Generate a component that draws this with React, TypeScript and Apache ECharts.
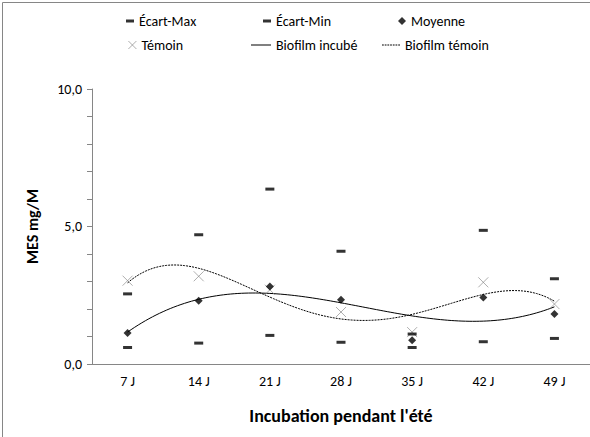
import React, { useEffect, useRef } from "react";
import * as echarts from "echarts";

const categories = ["7 J", "14 J", "21 J", "28 J", "35 J", "42 J", "49 J"];
const ecartMax = [2.55, 4.7, 6.36, 4.1, 1.09, 4.86, 3.1];
const ecartMin = [0.6, 0.76, 1.04, 0.79, 0.6, 0.81, 0.93];
const moyenne = [1.13, 2.3, 2.82, 2.34, 0.86, 2.42, 1.82];
const temoin = [3.03, 3.19, 2.7, 1.89, 1.16, 2.97, 2.18];
const yTicks = [0, 5, 10];

const FONT = "Carlito, Calibri, 'Liberation Sans Narrow', 'Noto Sans', sans-serif";

function polyfit(ys: number[], degree: number): number[] {
  const n = degree + 1;
  const A: number[][] = [];
  for (let i = 0; i < n; i++) {
    A.push(new Array(n + 1).fill(0));
  }
  ys.forEach((y, k) => {
    const x = k + 1;
    for (let i = 0; i < n; i++) {
      for (let j = 0; j < n; j++) A[i][j] += Math.pow(x, i + j);
      A[i][n] += y * Math.pow(x, i);
    }
  });
  for (let c = 0; c < n; c++) {
    let p = c;
    for (let r = c + 1; r < n; r++) if (Math.abs(A[r][c]) > Math.abs(A[p][c])) p = r;
    [A[c], A[p]] = [A[p], A[c]];
    for (let r = 0; r < n; r++) {
      if (r === c) continue;
      const f = A[r][c] / A[c][c];
      for (let k = c; k <= n; k++) A[r][k] -= f * A[c][k];
    }
  }
  return A.map((row, i) => row[n] / row[i]);
}

function trend(ys: number[], degree: number): number[][] {
  const coef = polyfit(ys, degree);
  const pts: number[][] = [];
  for (let x = 1; x <= 7.0001; x += 0.05) {
    let v = 0;
    coef.forEach((c, i) => (v += c * Math.pow(x, i)));
    pts.push([x, v]);
  }
  return pts;
}

const crossPath = "path://M0,0L10,10M10,0L0,10";
const solidIcon = "path://M0,0h20v1h-20z";
const dottedIcon =
  "path://M0,0h2v1h-2zM3,0h2v1h-2zM6,0h2v1h-2zM9,0h2v1h-2zM12,0h2v1h-2zM15,0h2v1h-2zM18,0h2v1h-2z";

export default function App() {
  const ref = useRef<HTMLDivElement>(null);
  useEffect(() => {
    document.body.style.margin = "0";
    const chart = echarts.init(ref.current!, undefined, { renderer: "svg" });
    const textStyle = { fontFamily: FONT, fontSize: 14, color: "#000" };
    const legendBase = {
      orient: "horizontal" as const,
      padding: 0,
      textStyle,
      itemGap: 0,
      selectedMode: false,
    };
    chart.setOption({
      animation: false,
      backgroundColor: "#fff",
      textStyle: { fontFamily: FONT },
      graphic: [
        {
          type: "rect",
          shape: { x: 2.5, y: 2.5, width: 700, height: 600 },
          style: { fill: "none", stroke: "#868686", lineWidth: 1 },
          silent: true,
        },
        {
          type: "text",
          x: 341,
          y: 416,
          style: {
            text: "Incubation pendant l'été",
            font: `bold 18px ${FONT}`,
            fill: "#000",
            align: "center",
            verticalAlign: "middle",
          },
        },
      ],
      legend: [
        { ...legendBase, data: ["Écart-Max"], left: 126, top: 14, icon: "rect", itemWidth: 8, itemHeight: 3 },
        { ...legendBase, data: ["Écart-Min"], left: 263, top: 14, icon: "rect", itemWidth: 8, itemHeight: 3 },
        { ...legendBase, data: ["Moyenne"], left: 398, top: 14, icon: "diamond", itemWidth: 8, itemHeight: 8 },
        {
          ...legendBase,
          data: [{ name: "Témoin", itemStyle: { color: "transparent", borderColor: "#808080", borderWidth: 0.8 } }],
          left: 128,
          top: 38,
          itemWidth: 8,
          itemHeight: 8,
        },
        { ...legendBase, data: ["Biofilm incubé"], left: 251, top: 38, icon: solidIcon, itemWidth: 20, itemHeight: 1 },
        { ...legendBase, data: ["Biofilm témoin"], left: 382, top: 38, icon: dottedIcon, itemWidth: 18, itemHeight: 1 },
      ],
      grid: { left: 92, right: 0, top: 89, bottom: 73, containLabel: false },
      xAxis: [
        {
          type: "category",
          data: categories,
          axisLine: { lineStyle: { color: "#868686" } },
          axisTick: { show: false },
          axisLabel: { ...textStyle, margin: 10 },
        },
        { type: "value", min: 0.5, max: 7.5, show: false },
      ],
      yAxis: {
        type: "value",
        min: 0,
        max: 10,
        interval: 5,
        name: "MES mg/M",
        nameLocation: "middle",
        nameGap: 52,
        nameTextStyle: { fontFamily: FONT, fontSize: 16, fontWeight: "bold", color: "#000" },
        axisLine: { show: true, lineStyle: { color: "#868686" } },
        axisTick: { show: true, inside: false, length: 5, lineStyle: { color: "#868686" } },
        minorTick: { show: true, splitNumber: 5, length: 5, lineStyle: { color: "#868686" } },
        splitLine: { show: false },
        axisLabel: {
          ...textStyle,
          margin: 10,
          formatter: (v: number) => (yTicks.includes(v) ? v.toFixed(1).replace(".", ",") : ""),
        },
      },
      series: [
        {
          name: "Biofilm incubé",
          type: "line",
          xAxisIndex: 1,
          data: trend(moyenne, 3),
          showSymbol: false,
          symbol: "none",
          lineStyle: { color: "#000", width: 1 },
          itemStyle: { color: "#000" },
          z: 2,
        },
        {
          name: "Biofilm témoin",
          type: "line",
          xAxisIndex: 1,
          data: trend(temoin, 4),
          showSymbol: false,
          symbol: "none",
          lineStyle: { color: "#000", width: 1, type: [2, 1] },
          itemStyle: { color: "#000" },
          z: 2,
        },
        {
          name: "Témoin",
          type: "scatter",
          data: temoin,
          symbol: crossPath,
          symbolSize: 10,
          itemStyle: { color: "transparent", borderColor: "#808080", borderWidth: 0.8 },
          z: 3,
        },
        {
          name: "Écart-Max",
          type: "scatter",
          data: ecartMax,
          symbol: "rect",
          symbolSize: [9, 3],
          itemStyle: { color: "#000" },
          z: 4,
        },
        {
          name: "Écart-Min",
          type: "scatter",
          data: ecartMin,
          symbol: "rect",
          symbolSize: [9, 3],
          itemStyle: { color: "#000" },
          z: 4,
        },
        {
          name: "Moyenne",
          type: "scatter",
          data: moyenne,
          symbol: "diamond",
          symbolSize: 8,
          itemStyle: { color: "#000" },
          z: 5,
        },
      ],
    });
    return () => chart.dispose();
  }, []);
  return (
    <div
      ref={ref}
      style={{ position: "fixed", left: 0, top: 0, width: 590, height: 437 }}
    />
  );
}
